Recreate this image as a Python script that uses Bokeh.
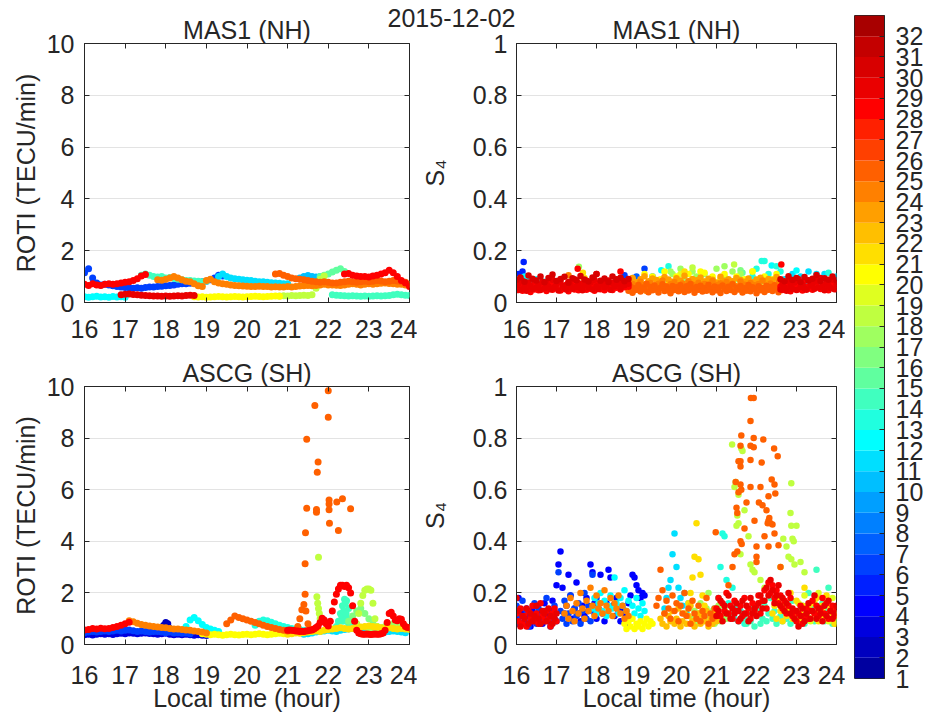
from bokeh.plotting import figure
from bokeh.models import ColumnDataSource, FixedTicker, LinearAxis, Label, Range1d, GridBox
from bokeh.layouts import row
from bokeh.embed import file_html
from bokeh.resources import INLINE

FONT = "Liberation Sans"
INK = "#262626"
GRID = "#e3e3e3"

# jet colour table, one entry per satellite PRN 1..32
PRNS = list(range(1, 33))
PRN_COLORS = ["#0000A0", "#0000BF", "#0000DF", "#0000FF", "#0020FF", "#0040FF",
              "#0060FF", "#0080FF", "#009FFF", "#00BFFF", "#00DFFF", "#00FFFF",
              "#20FFDF", "#40FFBF", "#60FF9F", "#80FF80", "#9FFF60", "#BFFF40",
              "#DFFF20", "#FFFF00", "#FFDF00", "#FFBF00", "#FF9F00", "#FF8000",
              "#FF6000", "#FF4000", "#FF2000", "#FF0000", "#EA0000", "#D80000",
              "#C40000", "#A80000"]

HOUR_TICKS = [16, 17, 18, 19, 20, 21, 22, 23, 24]
ROTI_TICKS = [0, 2, 4, 6, 8, 10]
S4_TICKS = [0, 0.2, 0.4, 0.6, 0.8, 1]
S4_LABELS = {0: "0", 0.2: "0.2", 0.4: "0.4", 0.6: "0.6", 0.8: "0.8", 1: "1"}

# ---------------- MAS1 (NH) ROTI: satellite passes, regular sampling ----------------
mas1_roti_prn = [12, 29, 20, 18, 14, 6, 28, 14, 24, 25, 11, 10, 15, 28]
mas1_roti_t0 = [16.0, 16.9, 18.7, 20.8, 22.1, 16.0, 16.0, 17.4, 17.8, 20.7, 19.3, 21.3, 21.8, 22.4]
mas1_roti_dt = [0.1, 0.1, 0.1, 0.1, 0.1, 0.1, 0.1, 0.1, 0.1, 0.1, 0.1, 0.1, 0.1, 0.1]
mas1_roti_val = [
    [0.22, 0.20, 0.22, 0.24, 0.21, 0.22, 0.20, 0.23, 0.21, 0.22, 0.20],
    [0.30, 0.32, 0.33, 0.31, 0.30, 0.28, 0.27, 0.26, 0.25, 0.25, 0.24, 0.25, 0.24, 0.25, 0.26, 0.25, 0.27, 0.28, 0.27],
    [0.22, 0.21, 0.22, 0.20, 0.21, 0.22, 0.23, 0.22, 0.21, 0.22, 0.23, 0.22, 0.21, 0.22, 0.23, 0.24, 0.23, 0.22,
     0.23, 0.24, 0.25, 0.24],
    [0.25, 0.26, 0.25, 0.27, 0.26, 0.27, 0.28, 0.27, 0.30, 0.55, 0.90, 1.02],
    [0.30, 0.28, 0.27, 0.26, 0.25, 0.26, 0.25, 0.24, 0.25, 0.24, 0.25, 0.26, 0.25, 0.26, 0.27, 0.30, 0.32, 0.30,
     0.28, 0.27],
    [1.15, 1.30, 0.95, 0.75, 0.68, 0.70, 0.68, 0.65, 0.62, 0.60, 0.58, 0.57, 0.55, 0.57, 0.55, 0.58, 0.60, 0.60,
     0.62, 0.63, 0.65, 0.66, 0.68, 0.70, 0.72, 0.72, 0.74, 0.75, 0.78, 0.80, 0.82, 0.88, 0.95, 1.05, 1.02],
    [0.70, 0.66, 0.72, 0.68, 0.66, 0.70, 0.72, 0.70, 0.72, 0.75, 0.78, 0.80, 0.85, 0.92, 1.02, 1.08],
    [1.05, 1.10, 1.05, 1.00, 0.98, 1.00, 0.95, 0.97, 0.93, 0.90, 0.88, 0.85, 0.85, 0.83, 0.82, 0.80, 0.82],
    [0.88, 0.86, 0.90, 0.95, 1.00, 0.95, 0.88, 0.82, 0.80, 0.72, 0.65, 0.62, 0.85, 0.90, 0.80, 0.75, 0.72, 0.70,
     0.68, 0.66, 0.65, 0.64, 0.63, 0.62, 0.62, 0.63, 0.62, 0.62, 0.60, 0.61, 0.60, 0.60, 0.62, 0.60, 0.62, 0.64,
     0.65, 0.66, 0.65, 0.66, 0.68, 0.70, 0.68, 0.68, 0.67, 0.66, 0.68, 0.70, 0.72, 0.70, 0.68, 0.70, 0.72, 0.70,
     0.72, 0.74, 0.75, 0.73, 0.72, 0.70, 0.70, 0.68, 0.70],
    [1.10, 1.12, 1.05, 1.00, 0.95, 0.92, 0.90, 0.88, 0.85, 0.82, 0.80, 0.78, 0.80, 0.78, 0.75, 0.75, 0.78, 0.80,
     0.82, 0.80, 0.78, 0.80, 0.82, 0.80, 0.82, 0.85, 0.83, 0.80, 0.82, 0.85, 0.83, 0.80, 0.78],
    [1.00, 1.10, 1.00, 0.95, 0.92, 0.90, 0.88, 0.86, 0.85, 0.82, 0.80, 0.80, 0.78, 0.76, 0.75, 0.74, 0.72, 0.72],
    [0.95, 1.00, 1.04, 1.00, 0.98, 1.00],
    [1.00, 1.05, 1.10, 1.18, 1.25, 1.30, 1.20],
    [1.10, 1.12, 1.05, 1.02, 1.00, 1.00, 0.98, 1.02, 1.05, 1.10, 1.15, 1.25, 1.15, 1.00, 0.85, 0.75, 0.62],
]

# ---------------- MAS1 (NH) S4 ----------------
mas1_s4_prn = [28, 29, 24, 25, 28, 29, 12, 5, 20, 17, 13, 11, 30, 23, 30]
mas1_s4_t0 = [16.0, 16.0, 18.8, 18.8, 22.6, 22.6, 16.0, 16.0, 18.8, 19.8, 21.9, 22.6, 16.0, 18.8, 22.6]
mas1_s4_dt = [0.05, 0.05, 0.05, 0.05, 0.05, 0.05, 0.1, 0.05, 0.1, 0.1, 0.1, 0.1, 0.1, 0.1, 0.1]
mas1_s4_val = [
    [0.055, 0.048, 0.062, 0.045, 0.070, 0.052, 0.058, 0.041, 0.066, 0.050, 0.074, 0.047, 0.060, 0.053, 0.068,
     0.044, 0.057, 0.072, 0.049, 0.063, 0.055, 0.078, 0.046, 0.061, 0.052, 0.069, 0.043, 0.058, 0.075, 0.050,
     0.064, 0.047, 0.071, 0.056, 0.082, 0.049, 0.060, 0.053, 0.067, 0.045, 0.073, 0.058, 0.051, 0.066, 0.047,
     0.079, 0.055, 0.062, 0.048, 0.070, 0.057, 0.064, 0.050, 0.076, 0.059, 0.068, 0.061],
    [0.068, 0.074, 0.050, 0.082, 0.060, 0.045, 0.077, 0.064, 0.052, 0.085, 0.058, 0.069, 0.048, 0.080, 0.055,
     0.072, 0.062, 0.051, 0.088, 0.059, 0.071, 0.046, 0.083, 0.066, 0.057, 0.050, 0.079, 0.068, 0.053, 0.090,
     0.061, 0.074, 0.056, 0.047, 0.069, 0.084, 0.058, 0.077, 0.050, 0.088, 0.063, 0.052, 0.081, 0.070, 0.059,
     0.066, 0.085, 0.049, 0.075, 0.062, 0.090, 0.071, 0.055, 0.083, 0.067, 0.078, 0.072],
    [0.060, 0.052, 0.071, 0.047, 0.065, 0.058, 0.080, 0.050, 0.068, 0.044, 0.062, 0.075, 0.053, 0.066, 0.049,
     0.072, 0.057, 0.085, 0.051, 0.064, 0.046, 0.070, 0.059, 0.078, 0.054, 0.067, 0.048, 0.073, 0.061, 0.052,
     0.082, 0.056, 0.069, 0.045, 0.064, 0.076, 0.053, 0.060, 0.071, 0.049, 0.066, 0.058, 0.083, 0.051, 0.068,
     0.047, 0.074, 0.062, 0.055, 0.079, 0.050, 0.065, 0.072, 0.048, 0.063, 0.057, 0.081, 0.052, 0.069, 0.046,
     0.060, 0.075, 0.054, 0.067, 0.050, 0.071, 0.058, 0.085, 0.049, 0.064, 0.056, 0.073, 0.051, 0.066, 0.059,
     0.078, 0.062],
    [0.045, 0.062, 0.038, 0.055, 0.049, 0.068, 0.042, 0.058, 0.051, 0.072, 0.040, 0.060, 0.047, 0.066, 0.053,
     0.039, 0.057, 0.070, 0.044, 0.061, 0.050, 0.036, 0.064, 0.048, 0.059, 0.043, 0.067, 0.052, 0.041, 0.063,
     0.046, 0.071, 0.054, 0.038, 0.060, 0.049, 0.065, 0.042, 0.056, 0.045, 0.069, 0.051, 0.040, 0.062, 0.047,
     0.058, 0.037, 0.066, 0.053, 0.044, 0.061, 0.048, 0.070, 0.041, 0.057, 0.050, 0.064, 0.039, 0.055, 0.046,
     0.068, 0.043, 0.059, 0.052, 0.036, 0.063, 0.047, 0.056, 0.041, 0.065, 0.049, 0.060, 0.044, 0.067, 0.053,
     0.040, 0.058],
    [0.062, 0.048, 0.075, 0.055, 0.069, 0.043, 0.081, 0.058, 0.066, 0.051, 0.073, 0.046, 0.084, 0.060, 0.054,
     0.078, 0.049, 0.070, 0.063, 0.088, 0.052, 0.067, 0.057, 0.080, 0.047, 0.071, 0.061, 0.076, 0.055],
    [0.050, 0.071, 0.058, 0.045, 0.083, 0.064, 0.052, 0.077, 0.048, 0.090, 0.060, 0.068, 0.055, 0.049, 0.086,
     0.066, 0.074, 0.053, 0.082, 0.058, 0.095, 0.062, 0.047, 0.072, 0.065, 0.056, 0.088, 0.051, 0.069],
    [0.09, 0.07, 0.10, 0.06, 0.08, 0.09, 0.07, 0.08, 0.06, 0.07],
    [0.10, 0.11, 0.09, 0.12, 0.10, 0.08, 0.09],
    [0.06, 0.09, 0.05, 0.08, 0.11, 0.07, 0.10, 0.06, 0.09, 0.12, 0.07, 0.05, 0.10, 0.08, 0.06, 0.11, 0.09, 0.07,
     0.12, 0.08, 0.05, 0.10, 0.07, 0.09, 0.11, 0.06, 0.08, 0.10, 0.05, 0.09, 0.07, 0.12, 0.08, 0.06, 0.10, 0.07,
     0.09, 0.11, 0.08],
    [0.08, 0.11, 0.06, 0.13, 0.09, 0.07, 0.12, 0.10, 0.08, 0.11, 0.06, 0.09, 0.13, 0.07, 0.10, 0.08, 0.12, 0.09, 0.11],
    [0.10, 0.13, 0.08, 0.16, 0.11, 0.09, 0.14, 0.12],
    [0.06, 0.09, 0.05, 0.11, 0.07, 0.10, 0.08, 0.12, 0.06, 0.09, 0.07, 0.11, 0.05, 0.08, 0.10],
    [0.088, 0.097, 0.080, 0.104, 0.092, 0.085, 0.100, 0.078, 0.095, 0.108, 0.083, 0.091, 0.099, 0.076, 0.094,
     0.086, 0.102, 0.089, 0.081, 0.097, 0.110, 0.084, 0.093, 0.079, 0.100, 0.088, 0.096, 0.082, 0.091],
    [0.084, 0.095, 0.078, 0.090, 0.101, 0.082, 0.093, 0.087, 0.076, 0.098, 0.089, 0.080, 0.094, 0.085, 0.103,
     0.079, 0.091, 0.086, 0.097, 0.081, 0.092, 0.088, 0.077, 0.099, 0.084, 0.090, 0.082, 0.095, 0.087, 0.080,
     0.093, 0.078, 0.089, 0.096, 0.083, 0.091, 0.086, 0.098, 0.081],
    [0.090, 0.082, 0.101, 0.087, 0.095, 0.079, 0.098, 0.085, 0.092, 0.106, 0.083, 0.094, 0.088, 0.100, 0.086],
]
# isolated S4 samples above the main band
mas1_s4_pt_prn = [5, 5, 5, 12, 12, 28, 17, 21, 21, 21, 28, 28, 6, 6, 7, 6, 12, 13, 17, 19, 18, 17, 18, 16,
                  15, 13, 12, 28, 12, 11, 13, 21, 20, 19, 24, 9]
mas1_s4_pt_t = [16.18, 16.02, 16.05, 16.27, 16.44, 17.53, 17.56, 17.62, 17.66, 17.70, 18.00, 18.60, 18.70,
                18.92, 19.00, 19.20, 19.62, 19.80, 19.85, 20.10, 20.40, 21.20, 21.44, 21.60, 21.65, 22.13,
                22.38, 22.62, 23.00, 23.50, 23.80, 20.20, 20.70, 21.90, 17.30, 19.40]
mas1_s4_pt_v = [0.156, 0.105, 0.095, 0.090, 0.085, 0.130, 0.138, 0.100, 0.115, 0.095, 0.110, 0.120, 0.105,
                0.095, 0.100, 0.130, 0.125, 0.140, 0.120, 0.110, 0.135, 0.140, 0.147, 0.125, 0.115, 0.160,
                0.143, 0.147, 0.124, 0.110, 0.115, 0.120, 0.115, 0.120, 0.105, 0.100]

# ---------------- ASCG (SH) ROTI ----------------
ascg_roti_prn = [3, 6, 28, 24, 2, 12, 20, 25, 13, 25, 28, 21, 14, 18, 16, 11, 17]
ascg_roti_t0 = [16.0, 16.0, 16.0, 17.1, 17.9, 18.5, 18.9, 19.5, 20.2, 21.2, 21.0, 21.0, 22.2, 22.7, 22.5, 21.4, 23.0]
ascg_roti_dt = [0.1, 0.1, 0.1, 0.1, 0.05, 0.1, 0.1, 0.1, 0.1, 0.05, 0.05, 0.1, 0.05, 0.05, 0.1, 0.1, 0.1]
ascg_roti_val = [
    [0.38, 0.40, 0.37, 0.40, 0.42, 0.40, 0.42, 0.39, 0.42, 0.44, 0.42, 0.45, 0.44, 0.42, 0.44, 0.45, 0.43, 0.42,
     0.40, 0.42, 0.44, 0.40, 0.38, 0.40, 0.38, 0.40, 0.38, 0.36, 0.38, 0.36, 0.35],
    [0.46, 0.48, 0.50, 0.48, 0.50, 0.52, 0.50, 0.52, 0.55, 0.52, 0.55, 0.56, 0.53, 0.50, 0.52, 0.50, 0.48, 0.50,
     0.50, 0.48, 0.46, 0.48, 0.45, 0.46, 0.44, 0.45, 0.42],
    [0.56, 0.58, 0.62, 0.60, 0.63, 0.61, 0.62, 0.66, 0.70, 0.75, 0.80, 0.86],
    [0.92, 0.88, 0.82, 0.78, 0.75, 0.72, 0.70, 0.68, 0.66, 0.65, 0.62, 0.60, 0.60, 0.58, 0.56, 0.55, 0.52, 0.50,
     0.48, 0.45],
    [0.60, 0.75, 0.85, 0.80, 0.62],
    [0.70, 0.95, 1.05, 0.92, 0.78, 0.66, 0.60, 0.55, 0.50],
    [0.42, 0.40, 0.38, 0.40, 0.38, 0.36, 0.38, 0.40, 0.38, 0.37, 0.39, 0.40, 0.38, 0.40, 0.42, 0.40, 0.38, 0.40,
     0.42, 0.44, 0.42, 0.45],
    [0.80, 0.95, 1.10, 1.05, 1.00, 0.95, 0.90, 0.85, 0.80, 0.75, 0.70, 0.66, 0.62, 0.58, 0.55, 0.52],
    [0.75, 0.90, 0.95, 0.92, 0.86, 0.80, 0.75, 0.70, 0.66, 0.62, 0.60, 0.58, 0.55, 0.52, 0.50],
    [0.55, 0.70, 1.00, 1.35, 1.55, 1.30, 0.80, 0.60],
    [0.55, 0.56, 0.55, 0.54, 0.52, 0.52, 0.50, 0.51, 0.50, 0.52,
     0.53, 0.55, 0.56, 0.60, 0.66, 0.72, 0.85, 1.02, 0.95, 0.80,
     0.72, 0.90, 1.30, 1.65, 1.95, 2.15, 2.30, 2.30, 2.25, 2.30,
     2.20, 2.00, 1.50, 0.90, 0.55, 0.45, 0.42, 0.40, 0.40, 0.41,
     0.40, 0.39, 0.40, 0.41, 0.40, 0.40, 0.42, 0.45, 0.55, 0.85,
     1.20, 1.25, 1.10, 0.95, 0.92, 1.00, 0.98, 0.80, 0.70, 0.66, 0.65],
    [0.40, 0.42, 0.45, 0.44, 0.46, 0.48, 0.50, 0.52, 0.50, 0.55, 0.58, 0.60, 0.62, 0.65, 0.62, 0.60, 0.62, 0.65,
     0.68, 0.70, 0.72, 0.70, 0.68, 0.65, 0.62, 0.65, 0.62, 0.60, 0.62, 0.60, 0.58],
    [0.70, 0.90, 1.20, 1.50, 1.75, 1.70, 1.40, 1.00, 0.80, 0.70],
    [0.80, 1.20, 1.60, 1.90, 2.10, 2.15, 2.15, 2.10, 1.60, 1.00, 0.70],
    [0.90, 1.10, 1.30, 1.40, 1.20, 1.00, 0.80, 0.70, 0.60, 0.55],
    [0.40, 0.42, 0.45, 0.48, 0.50, 0.52, 0.55, 0.52, 0.50, 0.55, 0.58, 0.60, 0.62, 0.65, 0.62, 0.60, 0.58, 0.55,
     0.52, 0.50, 0.48, 0.50, 0.52, 0.50, 0.48, 0.46],
    [0.55, 0.60, 0.62, 0.65, 0.70, 0.75, 0.80, 0.85, 0.75, 0.70, 0.65],
]
# scattered high ROTI samples
ascg_roti_pt_prn = [25] * 20 + [18, 18, 18, 18, 18, 18] + [14, 14, 14, 14, 14, 14, 14]
ascg_roti_pt_t = [21.43, 21.43, 21.44, 21.47, 21.47, 21.67, 21.71, 21.71, 21.73, 21.75, 22.00, 22.00, 22.02,
                  22.02, 22.02, 22.03, 22.21, 22.25, 22.35, 22.55,
                  21.76, 21.72, 21.74, 21.76, 21.78, 21.80,
                  22.33, 22.36, 22.38, 22.42, 22.44, 22.47, 22.50]
ascg_roti_pt_v = [1.95, 3.13, 4.33, 5.28, 7.96, 9.26, 5.23, 5.13, 6.68, 7.07, 9.84, 8.81, 5.60, 5.45, 5.22,
                  4.70, 5.52, 4.42, 5.65, 5.26,
                  3.38, 1.85, 1.60, 1.40, 1.20, 1.00,
                  1.10, 0.90, 1.30, 1.60, 1.20, 1.00, 0.80]

# ---------------- ASCG (SH) S4 ----------------
ascg_s4_prn = [28, 29, 4, 6, 24, 12, 20, 25, 22, 11, 21, 17, 13, 28, 29, 14, 21, 19]
ascg_s4_t0 = [16.0, 16.0, 16.0, 16.0, 17.2, 17.9, 18.7, 19.5, 19.6, 19.7, 20.3, 20.4, 20.9, 21.0, 21.0, 21.7,
              22.4, 23.0]
ascg_s4_dt = [0.05] * 18
ascg_s4_val = [
    [0.12, 0.09, 0.14, 0.08, 0.11, 0.07, 0.13, 0.10, 0.15, 0.09, 0.12, 0.08, 0.16, 0.11, 0.09, 0.13, 0.10, 0.07,
     0.12, 0.14, 0.09],
    [0.18, 0.13, 0.07, 0.11, 0.10, 0.14, 0.08, 0.12, 0.09, 0.11, 0.15, 0.10, 0.08, 0.13, 0.12, 0.09, 0.14, 0.11,
     0.08, 0.10, 0.12],
    [0.10, 0.18, 0.08, 0.12, 0.09, 0.14, 0.11, 0.07, 0.13, 0.09, 0.15, 0.10, 0.12, 0.08, 0.16, 0.11, 0.09, 0.13,
     0.17, 0.10, 0.23, 0.31, 0.36, 0.22, 0.12, 0.15, 0.27, 0.19, 0.10, 0.14, 0.24, 0.12, 0.09, 0.15, 0.11, 0.18,
     0.13, 0.31, 0.28, 0.16, 0.10, 0.14, 0.27, 0.12, 0.09, 0.16, 0.29, 0.26, 0.15, 0.11, 0.18, 0.13, 0.09, 0.14,
     0.12, 0.08, 0.16, 0.19, 0.27, 0.26, 0.23, 0.21, 0.18, 0.20, 0.19],
    [0.15, 0.08, 0.11, 0.17, 0.09, 0.13, 0.07, 0.12, 0.10, 0.16, 0.08, 0.14, 0.11, 0.09, 0.13, 0.18, 0.10, 0.07,
     0.12, 0.15, 0.09, 0.28, 0.13, 0.10, 0.17, 0.08, 0.12, 0.19, 0.09, 0.14, 0.11, 0.16, 0.08, 0.13, 0.20, 0.10,
     0.15, 0.09, 0.27, 0.12, 0.18],
    [0.12, 0.15, 0.10, 0.18, 0.13, 0.09, 0.16, 0.12, 0.20, 0.14, 0.10, 0.17, 0.13, 0.22, 0.15, 0.11, 0.19, 0.14,
     0.16, 0.12, 0.21, 0.15, 0.13, 0.18, 0.11, 0.16, 0.14, 0.19, 0.12, 0.15, 0.10, 0.13, 0.11],
    [0.14, 0.18, 0.12, 0.16, 0.20, 0.13, 0.17, 0.11, 0.15, 0.19, 0.14, 0.26, 0.16, 0.12, 0.18, 0.15, 0.21, 0.13,
     0.17, 0.10, 0.15, 0.12, 0.18, 0.14, 0.11, 0.16, 0.13],
    [0.08, 0.06, 0.09, 0.07, 0.10, 0.06, 0.08, 0.07, 0.09, 0.06, 0.08, 0.10, 0.07, 0.09, 0.08],
    [0.15, 0.18, 0.29, 0.21, 0.12, 0.17, 0.14, 0.10, 0.19, 0.13, 0.16, 0.09, 0.15, 0.12, 0.20, 0.11, 0.14, 0.08,
     0.17, 0.12, 0.10, 0.15, 0.09, 0.13, 0.11, 0.18, 0.08, 0.12, 0.10, 0.14, 0.11],
    [0.10, 0.08, 0.12, 0.07, 0.11, 0.09, 0.13, 0.08, 0.10, 0.14, 0.07, 0.09, 0.12, 0.08, 0.11, 0.15, 0.09, 0.07,
     0.10, 0.12, 0.08, 0.11, 0.09, 0.13, 0.07, 0.10, 0.08, 0.12, 0.09],
    [0.14, 0.18, 0.22, 0.25, 0.35, 0.43, 0.30, 0.22, 0.18, 0.15, 0.20, 0.12, 0.16],
    [0.16, 0.20, 0.26, 0.34, 0.47, 0.33, 0.27, 0.19, 0.15],
    [0.10, 0.13, 0.08, 0.12, 0.16, 0.09, 0.11, 0.14, 0.20, 0.10, 0.13, 0.08, 0.12, 0.15, 0.09, 0.11, 0.14, 0.10, 0.12],
    [0.10, 0.14, 0.09, 0.18, 0.30, 0.43, 0.42, 0.25, 0.16, 0.12, 0.22, 0.10, 0.15, 0.09, 0.13, 0.11, 0.08],
    [0.14, 0.18, 0.11, 0.16, 0.13, 0.20, 0.12, 0.15, 0.10, 0.17, 0.13, 0.09, 0.15, 0.11, 0.18, 0.12, 0.14, 0.10,
     0.16, 0.13, 0.15, 0.19, 0.12, 0.17, 0.21, 0.14, 0.24, 0.20, 0.23, 0.18, 0.21, 0.16, 0.19, 0.14, 0.17, 0.12,
     0.15, 0.18, 0.11, 0.13, 0.09, 0.12, 0.15, 0.08, 0.11, 0.14, 0.10, 0.13, 0.17, 0.12, 0.15, 0.11, 0.14, 0.18,
     0.12, 0.16, 0.10, 0.13, 0.15, 0.11, 0.14],
    [0.11, 0.13, 0.17, 0.09, 0.15, 0.12, 0.19, 0.10, 0.14, 0.12, 0.16, 0.13, 0.10, 0.17, 0.12, 0.15, 0.09, 0.18,
     0.12, 0.14, 0.11, 0.16, 0.19, 0.14, 0.17, 0.22, 0.19, 0.25, 0.21, 0.16, 0.19, 0.23, 0.15, 0.18, 0.13, 0.16,
     0.20, 0.12, 0.14, 0.10, 0.13, 0.07, 0.11, 0.14, 0.09, 0.12, 0.16, 0.10, 0.13, 0.19, 0.10, 0.14, 0.12, 0.09,
     0.15, 0.11, 0.17, 0.13, 0.10, 0.12, 0.15],
    [0.10, 0.08, 0.12, 0.09, 0.14, 0.07, 0.11, 0.13, 0.08, 0.10, 0.15, 0.09, 0.12, 0.18, 0.10, 0.13, 0.08, 0.16,
     0.11, 0.09, 0.14, 0.10, 0.12, 0.08, 0.17, 0.11, 0.09, 0.13, 0.10, 0.15, 0.08, 0.12, 0.20, 0.10, 0.14, 0.09,
     0.29, 0.12, 0.11, 0.16, 0.09, 0.13, 0.22, 0.10, 0.08, 0.12, 0.09],
    [0.12, 0.15, 0.10, 0.18, 0.13, 0.09, 0.16, 0.11, 0.14, 0.20, 0.10, 0.13, 0.17, 0.09, 0.12, 0.15, 0.22, 0.11,
     0.14, 0.10, 0.16, 0.12, 0.18, 0.09, 0.13, 0.15, 0.11, 0.19, 0.10, 0.14, 0.12, 0.08, 0.11],
    [0.12, 0.16, 0.10, 0.14, 0.19, 0.11, 0.15, 0.09, 0.13, 0.17, 0.12, 0.20, 0.10, 0.14, 0.11, 0.16, 0.09, 0.13,
     0.18, 0.10, 0.12],
]
# strong-scintillation S4 samples after 21 LT
ascg_s4_pt_prn = [25] * 54 + [18] * 31
ascg_s4_pt_t = [21.86, 21.93, 21.85, 21.62, 21.93, 22.17, 21.60, 21.85, 21.93, 22.44, 22.53, 21.55, 21.60,
                21.85, 22.13, 21.60, 21.48, 21.60, 21.62, 21.85, 22.10, 22.38, 22.45, 22.47, 22.30, 21.55,
                21.50, 21.52, 22.06, 22.15, 22.25, 22.32, 22.28, 22.35, 22.30, 22.40, 22.45, 21.60, 21.63,
                21.52, 22.00, 22.00, 22.30, 22.55, 22.00, 20.98, 21.30, 21.40, 21.45, 21.70, 21.75, 22.20,
                22.60, 21.95,
                21.39, 21.62, 21.65, 21.48, 21.45, 21.55, 21.52, 21.55, 21.50, 21.85, 21.90, 21.95, 22.87,
                22.85, 22.87, 23.00, 22.90, 22.93, 22.67, 22.80, 22.87, 22.95, 23.10, 22.75, 21.70, 21.80,
                22.10, 22.20, 22.60, 23.20, 21.60]
ascg_s4_pt_v = [0.955, 0.955, 0.866, 0.810, 0.800, 0.795, 0.770, 0.770, 0.765, 0.760, 0.730, 0.710, 0.710,
                0.715, 0.705, 0.690, 0.630, 0.620, 0.600, 0.610, 0.610, 0.640, 0.620, 0.585, 0.575, 0.590,
                0.530, 0.510, 0.550, 0.540, 0.520, 0.490, 0.470, 0.470, 0.480, 0.465, 0.430, 0.400, 0.390,
                0.360, 0.380, 0.340, 0.380, 0.385, 0.320, 0.435, 0.230, 0.300, 0.350, 0.450, 0.550, 0.420,
                0.300, 0.480,
                0.775, 0.760, 0.750, 0.630, 0.610, 0.580, 0.500, 0.470, 0.460, 0.310, 0.290, 0.280, 0.625,
                0.510, 0.460, 0.460, 0.410, 0.400, 0.410, 0.340, 0.330, 0.310, 0.320, 0.380, 0.520, 0.420,
                0.250, 0.220, 0.300, 0.280, 0.350]


def collect(prns, starts, steps, tracks, pt_prn=(), pt_t=(), pt_v=()):
    """Flatten passes and loose samples; draw in PRN order so high PRNs end on top."""
    rows = []
    for prn, t0, dt, vals in zip(prns, starts, steps, tracks):
        for k, val in enumerate(vals):
            rows.append((prn, round(t0 + k * dt, 4), val))
    rows += list(zip(pt_prn, pt_t, pt_v))
    rows.sort(key=lambda r: r[0])
    return ColumnDataSource(dict(t=[r[1] for r in rows], v=[r[2] for r in rows],
                                 color=[PRN_COLORS[r[0] - 1] for r in rows]))


def style_axis(ax):
    ax.axis_line_color = INK
    ax.major_tick_line_color = INK
    ax.major_tick_in = 5
    ax.major_tick_out = 0
    ax.minor_tick_line_color = None
    ax.major_label_text_font = FONT
    ax.major_label_text_font_size = "25px"
    ax.major_label_text_color = INK
    ax.axis_label_text_font = FONT
    ax.axis_label_text_font_size = "25px"
    ax.axis_label_text_font_style = "normal"
    ax.axis_label_text_color = INK


def mirror_axis(ticks):
    ax = LinearAxis(ticker=FixedTicker(ticks=ticks))
    style_axis(ax)
    ax.axis_line_color = None
    ax.major_label_standoff = 0
    ax.major_label_text_font_size = "0px"
    ax.major_label_overrides = {t: "" for t in ticks}
    return ax


def make_panel(src, title, ylabel, ymax, yticks, width, height, border, dot,
               xlabel=None, ylabel_gap=4, ytick_gap=10, xtick_gap=17, overrides=None):
    left, right, top, bottom = border
    p = figure(width=width, height=height, x_range=Range1d(16, 24), y_range=Range1d(0, ymax),
               output_backend="svg", toolbar_location=None,
               min_border_left=left, min_border_right=right,
               min_border_top=top, min_border_bottom=bottom)
    p.title.text = title
    p.title.align = "center"
    p.title.text_font = FONT
    p.title.text_font_size = "25px"
    p.title.text_font_style = "normal"
    p.title.text_color = INK
    p.title.standoff = 0
    p.outline_line_color = INK
    p.border_fill_color = "white"

    p.scatter(x="t", y="v", source=src, size=dot, marker="circle",
              fill_color="color", line_color=None)

    xa, ya = p.xaxis[0], p.yaxis[0]
    xa.ticker = FixedTicker(ticks=HOUR_TICKS)
    ya.ticker = FixedTicker(ticks=yticks)
    style_axis(xa)
    style_axis(ya)
    xa.major_label_standoff = xtick_gap
    ya.major_label_standoff = ytick_gap
    if overrides:
        ya.major_label_overrides = overrides
    ya.axis_label = ylabel
    ya.axis_label_standoff = ylabel_gap
    if xlabel:
        xa.axis_label = xlabel
        xa.axis_label_standoff = -3

    p.xgrid.visible = False
    p.ygrid.ticker = FixedTicker(ticks=yticks)
    p.ygrid.grid_line_color = GRID

    p.add_layout(mirror_axis(HOUR_TICKS), "above")
    p.add_layout(mirror_axis(yticks), "right")
    return p


src_mas1_roti = collect(mas1_roti_prn, mas1_roti_t0, mas1_roti_dt, mas1_roti_val)
src_mas1_s4 = collect(mas1_s4_prn, mas1_s4_t0, mas1_s4_dt, mas1_s4_val,
                      mas1_s4_pt_prn, mas1_s4_pt_t, mas1_s4_pt_v)
src_ascg_roti = collect(ascg_roti_prn, ascg_roti_t0, ascg_roti_dt, ascg_roti_val,
                        ascg_roti_pt_prn, ascg_roti_pt_t, ascg_roti_pt_v)
src_ascg_s4 = collect(ascg_s4_prn, ascg_s4_t0, ascg_s4_dt, ascg_s4_val,
                      ascg_s4_pt_prn, ascg_s4_pt_t, ascg_s4_pt_v)

TOP_H, BOT_H = 344, 370
LEFT_W, MID_W, CB_W = 417, 428, 84

p1 = make_panel(src_mas1_roti, "MAS1 (NH)", "ROTI (TECU/min)", 10, ROTI_TICKS,
                LEFT_W, TOP_H, (84, 8, 43, 42), 7)
p2 = make_panel(src_mas1_s4, "MAS1 (NH)", "S\u2084", 1, S4_TICKS,
                MID_W, TOP_H, (94, 9, 43, 42), 6.5, ylabel_gap=21, ytick_gap=9, overrides=S4_LABELS)
p3 = make_panel(src_ascg_roti, "ASCG (SH)", "ROTI (TECU/min)", 10, ROTI_TICKS,
                LEFT_W, BOT_H, (84, 8, 42, 70), 7, xlabel="Local time (hour)", xtick_gap=21)
p4 = make_panel(src_ascg_s4, "ASCG (SH)", "S\u2084", 1, S4_TICKS,
                MID_W, BOT_H, (94, 9, 42, 70), 6.5, xlabel="Local time (hour)", ylabel_gap=21,
                ytick_gap=9, xtick_gap=21, overrides=S4_LABELS)

# figure-wide date heading laid over the top row; its frame spans the panel frames (x 84..836)
head = figure(width=LEFT_W + MID_W, height=40, x_range=Range1d(84, 836), y_range=Range1d(0, 40),
              output_backend="svg", toolbar_location=None, title=None,
              x_axis_location=None, y_axis_location=None, min_border=0)
head.outline_line_color = None
head.background_fill_color = None
head.border_fill_color = None
head.grid.visible = False
head.add_layout(Label(x=451, y=22.5, text="2015-12-02", text_align="center", text_baseline="middle",
                      text_font=FONT, text_font_size="25px", text_color=INK))

panels = GridBox(children=[(p1, 0, 0), (p2, 0, 1), (p3, 1, 0), (p4, 1, 1), (head, 0, 0, 1, 2)])

# PRN colour bar: one cell per satellite, tick at the lower edge of each cell
cb = figure(width=CB_W, height=TOP_H + BOT_H, x_range=Range1d(0, 1), y_range=Range1d(1, 33),
            output_backend="svg", toolbar_location=None, title=None,
            x_axis_location=None, y_axis_location="right",
            min_border_left=9, min_border_right=45, min_border_top=15, min_border_bottom=36)
cb_src = ColumnDataSource(dict(lo=PRNS, hi=[k + 1 for k in PRNS], color=PRN_COLORS))
cb.quad(left=0, right=1, bottom="lo", top="hi", fill_color="color", line_color=None, source=cb_src)
cb.grid.visible = False
cb.outline_line_color = INK
cb.yaxis.ticker = FixedTicker(ticks=PRNS)
for ax in cb.yaxis:
    style_axis(ax)
    ax.major_label_standoff = 11

page = row(panels, cb)

open("out.html", "w").write(file_html(page, INLINE))
